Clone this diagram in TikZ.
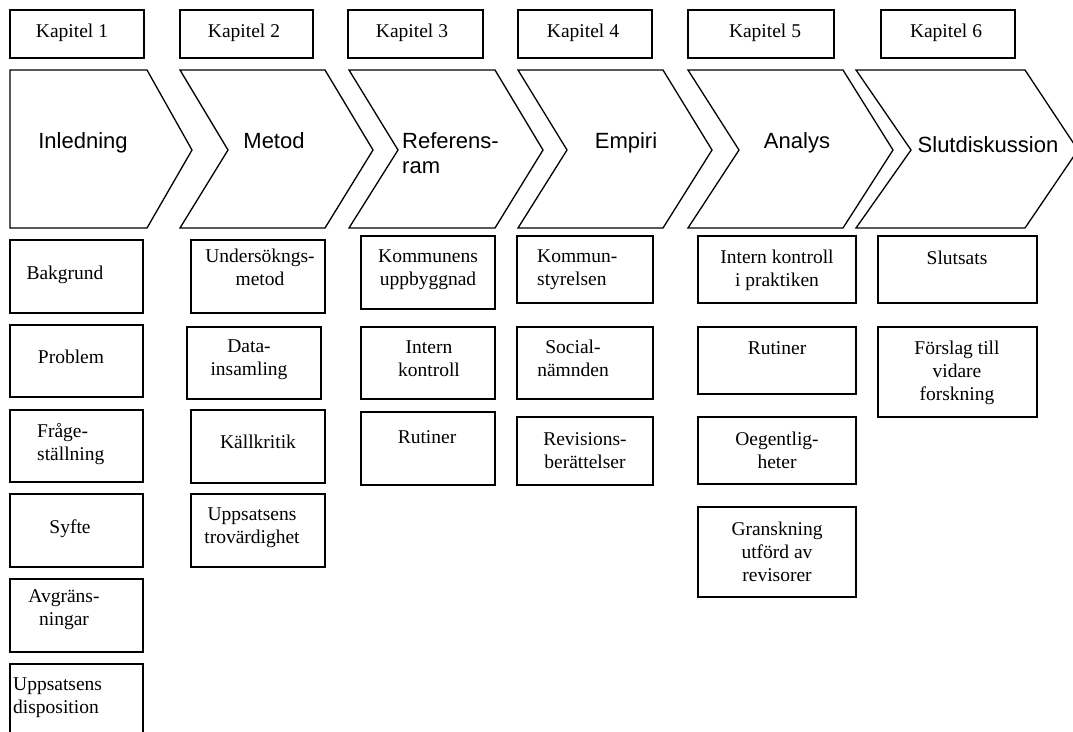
\documentclass[tikz,border=0pt]{standalone}
\usepackage{fontspec}
\setmainfont{Liberation Serif}
\newfontfamily\chevfont{Liberation Sans}
\newcommand{\mylines}[1]{\begin{tabular}[t]{@{}c@{}}#1\end{tabular}}
\newcommand{\mylinesl}[1]{\begin{tabular}[t]{@{}l@{}}#1\end{tabular}}
\begin{document}
\begin{tikzpicture}[x=1pt,y=-1pt,
  outline/.style={draw=black,line width=1.3pt,line join=miter},
  boxtext/.style={inner sep=0pt,anchor=base,font=\fontsize{19.5}{23}\selectfont},
  chevtext/.style={inner sep=0pt,anchor=base,font=\chevfont\fontsize{22}{25}\selectfont}]
\useasboundingbox (0,0) rectangle (1073,731);
\clip (0,0) rectangle (1073,731);
\fill[white] (0,0) rectangle (1073,731);

% box macro: name, x1, y1, x2, y2
\newcommand{\bx}[5]{\node[outline,inner sep=0pt,minimum width={(#4-#2)*1pt},minimum height={(#5-#3)*1pt}] (#1) at ({(#2+#4)/2},{(#3+#5)/2}) {};}

% Kapitel boxes
\bx{k1}{10}{10}{144}{58}
\bx{k2}{180}{10}{313}{58}
\bx{k3}{348}{10}{483}{58}
\bx{k4}{518}{10}{652}{58}
\bx{k5}{688}{10}{834}{58}
\bx{k6}{881}{10}{1015}{58}
\node[boxtext] (k1t) at (72,37) {Kapitel 1};
\node[boxtext] (k2t) at (244,37) {Kapitel 2};
\node[boxtext] (k3t) at (412,37) {Kapitel 3};
\node[boxtext] (k4t) at (583,37) {Kapitel 4};
\node[boxtext] (k5t) at (765,37) {Kapitel 5};
\node[boxtext] (k6t) at (946,37) {Kapitel 6};

% Chevrons
\draw[outline] (10,70) -- (147,70) -- (192,150) -- (147,228) -- (10,228) -- cycle;
\draw[outline] (180,70) -- (325,70) -- (373,150) -- (325,228) -- (180,228) -- (228,150) -- cycle;
\draw[outline] (349,70) -- (495,70) -- (543,150) -- (495,228) -- (349,228) -- (398,150) -- cycle;
\draw[outline] (518,70) -- (663,70) -- (712,150) -- (663,228) -- (518,228) -- (567,150) -- cycle;
\draw[outline] (688,70) -- (843,70) -- (893,150) -- (843,228) -- (688,228) -- (739,150) -- cycle;
\draw[outline] (856,70) -- (1025,70) -- (1078,150) -- (1025,228) -- (856,228) -- (911,150) -- cycle;
\node[chevtext] (c1) at (83,148) {Inledning};
\node[chevtext] (c2) at (274,148) {Metod};
\node[chevtext,anchor=base west] (c3) at (402,148) {\begin{tabular}[t]{@{}l@{}}Referens-\\ram\end{tabular}};
\node[chevtext] (c4) at (626,148) {Empiri};
\node[chevtext] (c5) at (797,148) {Analys};
\node[chevtext] (c6) at (988,152) {Slutdiskussion};

% Column 1
\bx{bak}{10}{240}{143}{313}
\bx{prob}{10}{325}{143}{397}
\bx{frag}{10}{410}{143}{482}
\bx{syf}{10}{494}{143}{567}
\bx{avg}{10}{579}{143}{652}
\bx{upd}{10}{664}{143}{770}
\node[boxtext] (bakt) at (65,279) {Bakgrund};
\node[boxtext] (probt) at (71,363) {Problem};
\node[boxtext,anchor=base west] (fragt) at (37,437) {\mylinesl{Fråge-\\ställning}};
\node[boxtext] (syft) at (70,533) {Syfte};
\node[boxtext] (avgt) at (64,602) {\mylines{Avgräns-\\ningar}};
\node[boxtext,anchor=base west] (updt) at (13,690) {\mylinesl{Uppsatsens\\disposition}};

% Column 2
\bx{und}{191}{240}{325}{313}
\bx{dat}{187}{327}{321}{399}
\bx{kal}{191}{410}{325}{483}
\bx{upt}{191}{494}{325}{567}
\node[boxtext] (undt) at (260,262) {\mylines{Undersökngs-\\metod}};
\node[boxtext] (datt) at (249,352) {\mylines{Data-\\insamling}};
\node[boxtext] (kalt) at (258,448) {Källkritik};
\node[boxtext] (uptt) at (252,520) {\mylines{Uppsatsens\\trovärdighet}};

% Column 3
\bx{kom}{361}{236}{495}{309}
\bx{int}{361}{327}{495}{399}
\bx{rut}{361}{412}{495}{485}
\node[boxtext] (komt) at (428,262) {\mylines{Kommunens\\uppbyggnad}};
\node[boxtext] (intt) at (429,353) {\mylines{Intern\\kontroll}};
\node[boxtext] (rutt) at (427,443) {Rutiner};

% Column 4
\bx{kst}{517}{236}{653}{303}
\bx{soc}{517}{327}{653}{399}
\bx{rev}{517}{417}{653}{485}
\node[boxtext,anchor=base west] (kstt) at (537,262) {\mylinesl{Kommun-\\styrelsen}};
\node[boxtext] (soct) at (573,353) {\mylines{Social-\\nämnden}};
\node[boxtext] (revt) at (585,445) {\mylines{Revisions-\\berättelser}};

% Column 5
\bx{ikp}{698}{236}{856}{303}
\bx{rutf}{698}{327}{856}{394}
\bx{oeg}{698}{417}{856}{484}
\bx{gra}{698}{507}{856}{597}
\node[boxtext] (ikpt) at (777,263) {\mylines{Intern kontroll\\i praktiken}};
\node[boxtext] (rutft) at (777,354) {Rutiner};
\node[boxtext] (oegt) at (777,445) {\mylines{Oegentlig-\\heter}};
\node[boxtext] (grat) at (777,535) {\mylines{Granskning\\utförd av\\revisorer}};

% Column 6
\bx{slu}{878}{236}{1037}{303}
\bx{fors}{878}{327}{1037}{417}
\node[boxtext] (slut) at (957,264) {Slutsats};
\node[boxtext] (forst) at (957,354) {\mylines{Förslag till\\vidare\\forskning}};
\end{tikzpicture}
\end{document}
